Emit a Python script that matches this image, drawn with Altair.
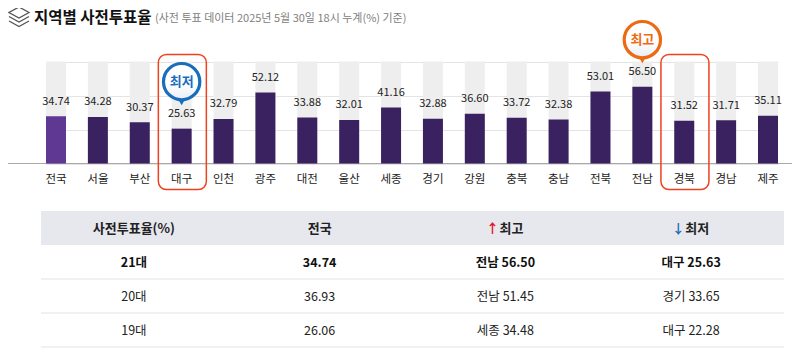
import altair as alt
import pandas as pd

regions = ["전국","서울","부산","대구","인천","광주","대전","울산","세종","경기","강원","충북","충남","전북","전남","경북","경남","제주"]
turnout = [34.74,34.28,30.37,25.63,32.79,52.12,33.88,32.01,41.16,32.88,36.60,33.72,32.38,53.01,56.50,31.52,31.71,35.11]
labels = ["34.74","34.28","30.37","25.63","32.79","52.12","33.88","32.01","41.16","32.88","36.60","33.72","32.38","53.01","56.50","31.52","31.71","35.11"]
full_scale = 75
boxed = ["대구", "경북"]
callout_regions = ["대구", "전남"]
callout_text = ["최저", "최고"]
callout_color = ["#1a6dbb", "#ee6a12"]

table_cols = ["사전투표율(%)", "전국", "최고", "최저"]
table_rows = ["head", "21대", "20대", "19대"]
row_21 = ["21대", "34.74", "전남 56.50", "대구 25.63"]
row_20 = ["20대", "36.93", "전남 51.45", "경기 33.65"]
row_19 = ["19대", "26.06", "세종 34.48", "대구 22.28"]

KR = "Noto Sans CJK KR"

df = pd.DataFrame({"region": regions, "v": turnout, "lab": labels, "full": [full_scale] * len(regions)})
df["kind"] = ["nation"] + ["region"] * (len(regions) - 1)

xs = alt.Scale(type="band", domain=regions, range=[38, 770], paddingInner=0.5225, paddingOuter=0)
ys = alt.Scale(domain=[0, 75], range=[151.5, 49.5], nice=False)
X = alt.X("region:N", scale=xs, axis=None, sort=regions)
Y = alt.Y("v:Q", scale=ys, axis=None)

base = alt.Chart(df)
columns = base.mark_bar(color="#eeeeee").encode(
    x=alt.X("region:N", scale=xs, sort=regions, title=None,
            axis=alt.Axis(orient="bottom", offset=-184, domain=False, ticks=False, labelAngle=0,
                          labelFont=KR, labelFontSize=11.5, labelColor="#222222", labelPadding=10.5,
                          grid=False)),
    y=alt.Y("full:Q", scale=ys, title=None,
            axis=alt.Axis(values=[0, 25, 50, 75], grid=True, gridColor="#e4e4e4", gridWidth=1,
                          domain=False, ticks=False, labels=False)),
)
baseline = alt.Chart(pd.DataFrame({"z": [0]})).mark_rule(color="#a9a9a9", strokeWidth=1).encode(
    y=alt.Y("z:Q", scale=ys, axis=None), x=alt.value(0), x2=alt.value(784))
bars = base.mark_bar().encode(
    x=X, y=Y,
    color=alt.Color("kind:N", legend=None,
                    scale=alt.Scale(domain=["nation", "region"], range=["#5f3893", "#3a2260"])),
)
values = base.mark_text(font=KR, fontSize=11, color="#222222", dy=-14.5, baseline="middle").encode(
    x=X, y=Y, text="lab:N")

boxes = base.transform_filter(alt.FieldOneOfPredicate(field="region", oneOf=boxed)).mark_bar(
    width=48, cornerRadius=8, fill="transparent", stroke="#f0401f", strokeWidth=1.5, xOffset=0.7
).encode(x=X, y=alt.value(42.5), y2=alt.value(177.5))

cdf = df[df.region.isin(callout_regions)].copy()
cdf["txt"] = [callout_text[callout_regions.index(r)] for r in cdf.region]
cdf["col"] = [callout_color[callout_regions.index(r)] for r in cdf.region]
col_enc = alt.Color("col:N", scale=None, legend=None)
tails = alt.Chart(cdf).mark_point(shape="triangle-down", filled=True, size=70, opacity=1, yOffset=-27, strokeWidth=0).encode(
    x=X, y=Y, color=col_enc)
pin_fill = alt.Gradient(gradient="linear", x1=0, x2=0, y1=0, y2=1,
                        stops=[alt.GradientStop(offset=0, color="#ffffff"),
                               alt.GradientStop(offset=0.55, color="#ffffff"),
                               alt.GradientStop(offset=1, color="#e6eef7")])
circles = alt.Chart(cdf).mark_point(shape="circle", size=1320, opacity=1, strokeWidth=3.2, yOffset=-47, fill=pin_fill).encode(
    x=X, y=Y, stroke=alt.Stroke("col:N", scale=None, legend=None))
pin_text = alt.Chart(cdf).mark_text(font=KR, fontSize=13, fontWeight="bold", yOffset=-47, baseline="middle").encode(
    x=X, y=Y, text="txt:N", color=col_enc)

one = pd.DataFrame({"t": ["지역별 사전투표율"], "s": ["(사전 투표 데이터 2025년 5월 30일 18시 누계(%) 기준)"]})
icon = alt.Chart(one).mark_point(
    shape="M0,-1L1,-.45L0,.1L-1,-.45Z M-1,-.05L0,.5L1,-.05 M-1,.4L0,.95L1,.4",
    size=400, opacity=1, fill="transparent", stroke="#555555", strokeWidth=1.3
).encode(x=alt.value(11), y=alt.value(5))
title = alt.Chart(one).mark_text(font=KR, fontSize=15.5, fontWeight="bold", color="#111111", align="left", baseline="middle").encode(
    x=alt.value(26), y=alt.value(5.5), text="t:N")
subtitle = alt.Chart(one).mark_text(font=KR, fontSize=11, color="#808080", align="left", baseline="middle").encode(
    x=alt.value(147), y=alt.value(7), text="s:N")

tx = alt.Scale(type="band", domain=table_cols, range=[33, 776], paddingInner=0, paddingOuter=0)
ty = alt.Scale(type="band", domain=table_rows, range=[199, 335], paddingInner=0, paddingOuter=0)
TX = alt.X("col:N", scale=tx, axis=None, sort=table_cols)
TY = alt.Y("row:N", scale=ty, axis=None, sort=table_rows)

head_bg = alt.Chart(pd.DataFrame({"row": ["head"]})).mark_rect(color="#e7e8ee").encode(
    y=TY, x=alt.value(33), x2=alt.value(776))
row_lines = alt.Chart(pd.DataFrame({"row": table_rows[1:]})).mark_rule(color="#e3e3e3", strokeWidth=1).encode(
    y=alt.Y("row:N", scale=ty, axis=None, sort=table_rows, bandPosition=1), x=alt.value(33), x2=alt.value(776))

head = pd.DataFrame({"row": ["head"] * 4, "col": table_cols, "t": table_cols})
head_plain = alt.Chart(head[:2]).mark_text(font=KR, fontSize=13, fontWeight="bold", color="#222222", baseline="middle", dy=0.5).encode(
    x=TX, y=TY, text="t:N")
head_ext = alt.Chart(head[2:]).mark_text(font=KR, fontSize=13, fontWeight="bold", color="#222222", baseline="middle", dx=6, dy=0.5).encode(
    x=TX, y=TY, text="t:N")
arrows = pd.DataFrame({"row": ["head", "head"], "col": ["최고", "최저"], "t": ["↑", "↓"], "c": ["#e8101c", "#1a6dbb"]})
arrow_text = alt.Chart(arrows).mark_text(font=KR, fontSize=13, fontWeight="bold", baseline="middle", dx=-13, dy=0.5).encode(
    x=TX, y=TY, text="t:N", color=alt.Color("c:N", scale=None, legend=None))

cells = pd.DataFrame([
    {"row": r[0], "col": c, "t": v} for r in (row_21, row_20, row_19) for c, v in zip(table_cols, r)
])
bold_text = alt.Chart(cells[cells.row == "21대"]).mark_text(font=KR, fontSize=12.5, fontWeight="bold", color="#111111", baseline="middle", dy=1).encode(
    x=TX, y=TY, text="t:N")
norm_text = alt.Chart(cells[cells.row != "21대"]).mark_text(font=KR, fontSize=12.5, color="#222222", baseline="middle", dy=1).encode(
    x=TX, y=TY, text="t:N")

chart = alt.layer(
    columns, baseline, bars, values, boxes, tails, circles, pin_text,
    icon, title, subtitle,
    head_bg, row_lines, head_plain, head_ext, arrow_text, bold_text, norm_text,
).resolve_scale(x="independent", y="independent", color="independent", stroke="independent").properties(
    width=784, height=335,
    autosize=alt.AutoSizeParams(type="none"),
    padding={"left": 0, "top": 4, "right": 0, "bottom": 2},
).configure_view(stroke=None)

chart.save("out.html", embed_options={"renderer": "svg", "actions": False})
